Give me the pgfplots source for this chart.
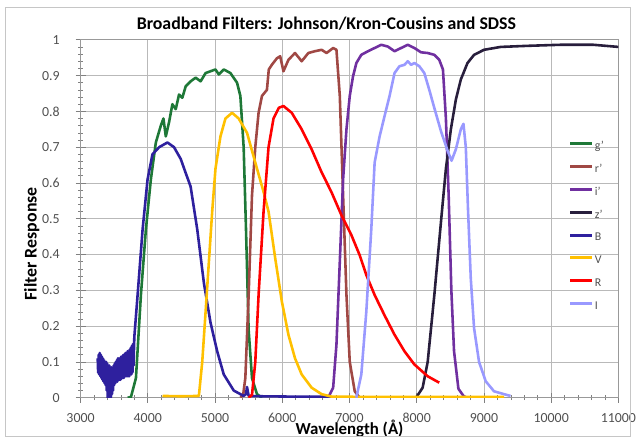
\documentclass[border=0pt]{standalone}
\usepackage{fontspec}
\setmainfont{Carlito}
\usepackage{pgfplots}
\pgfplotsset{compat=1.18}

\definecolor{gband}{RGB}{30,120,55}
\definecolor{rband}{RGB}{160,72,68}
\definecolor{iband}{RGB}{112,48,160}
\definecolor{zband}{RGB}{40,30,60}
\definecolor{Bband}{RGB}{46,32,158}
\definecolor{Vband}{RGB}{255,192,0}
\definecolor{Rband}{RGB}{255,0,0}
\definecolor{Iband}{RGB}{153,153,255}
\definecolor{tickgray}{RGB}{80,80,80}

\begin{document}
\begin{tikzpicture}
\begin{axis}[
    scale only axis,
    width=541bp, height=360bp,
    xmin=3000, xmax=11000,
    ymin=0, ymax=1,
    xtick={3000,4000,...,11000},
    ytick={0,0.1,...,1},
    minor x tick num=4,
    minor y tick num=4,
    tick pos=left,
    tick align=center,
    major tick length=10bp,
    minor tick length=5bp,
    tick style={gray, line width=0.6bp},
    axis line style={gray!80, line width=0.8bp},
    grid=major,
    major grid style={gray!55, line width=0.7bp},
    scaled x ticks=false,
    /pgf/number format/fixed,
    /pgf/number format/set thousands separator={},
    /pgf/number format/precision=1,
    /pgf/number format/assume math mode=true,
    ticklabel style={font=\fontsize{14}{16}\selectfont, text=tickgray, inner sep=1bp},
    xticklabel style={yshift=-9.5bp},
    yticklabel style={xshift=-14.7bp},
    title={Broadband Filters: Johnson/Kron-Cousins and SDSS},
    title style={font=\fontsize{18}{21}\bfseries, anchor=base,
        at={(rel axis cs:0.457,1)}, yshift=4bp},
    xlabel={Wavelength (Å)},
    ylabel={Filter Response},
    xlabel style={font=\fontsize{17}{20}\bfseries, inner sep=0pt,
        at={(rel axis cs:0.5,-0.104)}, anchor=base},
    ylabel style={font=\fontsize{18}{21}\bfseries,
        at={(rel axis cs:-0.0906,0.43)}, anchor=center},
    legend style={at={(rel axis cs:0.9076,0.719)}, anchor=north west, draw=none, fill=none,
        inner sep=0pt, font=\fontsize{12}{14}\selectfont, text=tickgray,
        nodes={inner sep=1bp, text height=8bp, text depth=2bp}, row sep=11bp},
    legend cell align=left,
    legend image code/.code={\draw[#1, line width=3bp] (0bp,3bp) -- (22bp,3bp);},
    every axis plot/.append style={line width=2.6bp, line join=round},
]

% g'
\addplot[gband] coordinates {
(3700,0)(3750,0.002)(3824,0.055)(3898,0.287)(3972,0.47)(4046,0.61)(4120,0.713)
(4194,0.76)(4233,0.78)(4268,0.73)(4317,0.77)(4366,0.82)(4416,0.806)(4465,0.847)
(4514,0.838)(4564,0.87)(4638,0.884)(4712,0.894)(4786,0.884)(4860,0.907)(4933,0.912)
(5007,0.917)(5057,0.903)(5131,0.917)(5229,0.907)(5328,0.88)(5377,0.843)(5426,0.70)
(5461,0.47)(5500,0.19)(5550,0.055)(5624,0.01)(5700,0)
};
% r'
\addplot[rband] coordinates {
(5380,0)(5420,0.01)(5451,0.055)(5500,0.287)(5550,0.565)(5599,0.70)(5648,0.796)
(5698,0.843)(5772,0.86)(5800,0.917)(5845,0.93)(5919,0.948)(5969,0.954)(6018,0.912)
(6092,0.944)(6190,0.963)(6289,0.94)(6388,0.963)(6486,0.968)(6585,0.972)(6659,0.963)
(6757,0.977)(6806,0.972)(6856,0.843)(6905,0.565)(6955,0.287)(7004,0.10)(7078,0.018)
(7152,0)
};
% i'
\addplot[iband] coordinates {
(6683,0)(6757,0.028)(6806,0.148)(6856,0.38)(6905,0.61)(6955,0.75)(7004,0.843)
(7053,0.898)(7102,0.935)(7176,0.958)(7275,0.968)(7374,0.977)(7472,0.986)(7571,0.981)
(7670,0.968)(7768,0.977)(7867,0.986)(7965,0.977)(8064,0.965)(8162,0.963)(8261,0.958)
(8335,0.944)(8390,0.917)(8434,0.78)(8475,0.565)(8515,0.30)(8555,0.13)(8620,0.025)
(8700,0.004)(8750,0)
};
% z'
\addplot[zband] coordinates {
(7990,0)(8088,0.028)(8163,0.10)(8262,0.287)(8360,0.49)(8434,0.64)(8508,0.75)
(8582,0.833)(8656,0.889)(8755,0.935)(8853,0.958)(9001,0.972)(9248,0.98)(9642,0.983)
(10135,0.986)(10628,0.986)(11000,0.98)
};
% B
\addplot[Bband] coordinates {
(3255,0.11)(3262,0.07)(3270,0.12)(3278,0.065)(3286,0.125)(3294,0.06)(3302,0.12)
(3310,0.055)(3318,0.115)(3326,0.05)(3334,0.11)(3342,0.045)(3350,0.105)(3358,0.04)
(3366,0.10)(3374,0.035)(3382,0.10)(3390,0.02)(3398,0.095)(3405,0.0)(3412,0.09)
(3420,0.0)(3428,0.09)(3436,0.0)(3444,0.085)(3452,0.0)(3460,0.085)(3468,0.01)
(3476,0.083)(3484,0.02)(3492,0.09)(3500,0.035)(3508,0.095)(3516,0.04)(3524,0.10)
(3532,0.045)(3540,0.105)(3548,0.045)(3556,0.11)(3564,0.05)(3572,0.11)(3580,0.05)
(3588,0.11)(3596,0.05)(3604,0.115)(3612,0.055)(3620,0.115)(3628,0.055)(3636,0.12)
(3644,0.055)(3652,0.12)(3660,0.06)(3668,0.125)(3676,0.06)(3684,0.125)(3692,0.06)
(3700,0.13)(3708,0.06)(3716,0.13)(3724,0.06)(3732,0.135)(3740,0.065)(3748,0.14)
(3756,0.065)(3764,0.145)(3772,0.07)(3780,0.15)(3788,0.09)(3800,0.17)
(3850,0.29)(3923,0.47)(3997,0.61)(4070,0.68)(4170,0.70)(4292,0.713)(4390,0.70)
(4490,0.667)(4560,0.63)(4637,0.59)(4736,0.47)(4835,0.32)(4933,0.21)(5032,0.13)
(5130,0.065)(5279,0.02)(5426,0.005)(5460,0.01)(5476,0.03)(5500,0.005)(5700,0.004)
(6200,0.003)(6700,0.003)(6750,0)
};
% V
\addplot[Vband] coordinates {
(4219,0.005)(4500,0.004)(4760,0.005)(4810,0.10)(4860,0.24)(4909,0.38)(4958,0.52)
(5007,0.64)(5081,0.73)(5155,0.78)(5254,0.796)(5352,0.78)(5476,0.74)(5599,0.657)
(5722,0.575)(5796,0.52)(5895,0.39)(5993,0.27)(6092,0.176)(6190,0.11)(6289,0.065)
(6437,0.028)(6585,0.01)(6733,0.003)(7500,0.002)(8500,0.002)(9300,0.002)
};
% R
\addplot[Rband] coordinates {
(5500,0)(5550,0.008)(5599,0.10)(5648,0.287)(5722,0.52)(5796,0.70)(5870,0.78)
(5950,0.81)(6018,0.815)(6141,0.796)(6289,0.75)(6437,0.694)(6585,0.63)(6733,0.574)
(6880,0.51)(7029,0.454)(7152,0.398)(7250,0.343)(7374,0.287)(7522,0.23)(7670,0.176)
(7817,0.13)(7965,0.093)(8162,0.06)(8335,0.042)
};
% I
\addplot[Iband] coordinates {
(7102,0)(7176,0.065)(7250,0.24)(7324,0.47)(7374,0.657)(7448,0.73)(7522,0.787)
(7596,0.843)(7670,0.907)(7743,0.926)(7817,0.93)(7867,0.94)(7916,0.93)(7965,0.935)
(8039,0.926)(8113,0.907)(8187,0.86)(8261,0.81)(8360,0.745)(8459,0.69)(8518,0.662)
(8582,0.694)(8656,0.75)(8695,0.765)(8730,0.70)(8764,0.52)(8804,0.333)(8853,0.194)
(8927,0.10)(9026,0.046)(9149,0.018)(9297,0.01)(9395,0.005)
};
\legend{g',r',i',z',B,V,R,I}

\coordinate (sw) at (rel axis cs:0,0);
\coordinate (ne) at (rel axis cs:1,1);
\end{axis}
\path ([shift={(-81bp,-41bp)}]sw) rectangle ([shift={(15bp,40bp)}]ne);
\draw[gray!45, line width=0.8bp] ([shift={(-76bp,-39bp)}]sw) rectangle ([shift={(12bp,33bp)}]ne);
\end{tikzpicture}
\end{document}
